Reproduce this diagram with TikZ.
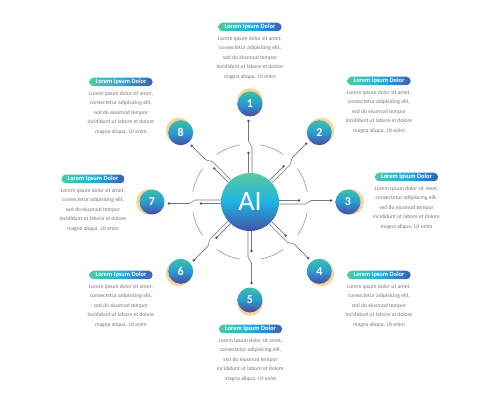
\documentclass[tikz,border=0pt]{standalone}
\usepackage{fontspec}
\setmainfont{Carlito}
\usetikzlibrary{calc}
\definecolor{wirec}{HTML}{6C7A89}
\definecolor{ringc}{HTML}{8F9CA8}
\definecolor{dotcol}{HTML}{46525F}
\definecolor{numtop}{HTML}{38C2A6}
\definecolor{nummid}{HTML}{2B9AD4}
\definecolor{numbot}{HTML}{4B4A9E}
\definecolor{aitop}{HTML}{5CC9A0}
\definecolor{aimid}{HTML}{1FB3E3}
\definecolor{aibot}{HTML}{4352A6}
\definecolor{pillL}{HTML}{4CCAA6}
\definecolor{pillM}{HTML}{27AEE0}
\definecolor{pillR}{HTML}{3D5FB6}
\definecolor{bodyc}{HTML}{76797E}
\definecolor{cresc}{HTML}{F8D39B}
\begin{document}
\begin{tikzpicture}[x=1pt,y=1pt,
  wire/.style={draw=wirec, line width=0.55pt},
  ringarc/.style={draw=ringc, line width=0.6pt},
  wiredot/.style={fill=dotcol},
  numnode/.style={circle, minimum size=25pt, inner sep=0pt, top color=numtop, bottom color=numbot, middle color=nummid, text=white, font=\fontsize{12}{12}\selectfont\bfseries},
  aicircle/.style={circle, minimum size=58pt, inner sep=0pt, top color=aitop, bottom color=aibot, middle color=aimid, text=white, font=\fontsize{28}{28}\selectfont},
  pill/.style={rounded corners=4pt, minimum width=63pt, minimum height=8.5pt, inner sep=0pt, left color=pillL, right color=pillR, middle color=pillM, text=white, font=\fontsize{6.4}{6.4}\selectfont\bfseries},
  body/.style={align=center, inner sep=0pt, text=bodyc, font=\fontsize{5.6}{9.45}\selectfont, anchor=north},
]
\useasboundingbox (0,0) rectangle (500,404);
\fill[white] (0,0) rectangle (500,404);

% central AI node
\node[aicircle] (ai) at (250,202) {AI};

% dashed ring
\foreach \k in {0,...,7}{
  \draw[ringarc] ($(ai.center)+({22.5+45*\k-12.5}:58)$) arc[start angle={22.5+45*\k-12.5}, delta angle=25, radius=58];
}

% spokes, crescents and number nodes
\foreach \a/\i in {90/1,45/2,0/3,-45/4,-90/5,-135/6,180/7,135/8}{
  \coordinate (d\i) at ($(ai.center)+(\a:81)+({\a+90}:1.5)$);
  \coordinate (s\i) at ($(ai.center)+(\a:49)+({\a+90}:1.5)$);
  \draw[wire] ($(ai.center)+(\a:29)+({\a-90}:2)$) -- ($(ai.center)+(\a:55)+({\a-90}:2)$) -- ($(ai.center)+(\a:61)+({\a+90}:1.5)$) -- (d\i);
  \draw[wire] ($(ai.center)+(\a:29)+({\a+90}:1.5)$) -- (s\i);
  \fill[wiredot] (d\i) circle[radius=1.3];
  \fill[wiredot] (s\i) circle[radius=1.3];
  \coordinate (p\i) at ($(ai.center)+(\a:98)$);
  \fill[cresc] ($(p\i)+(\a:3)$) circle[radius=12.8];
  \node[numnode] (n\i) at (p\i) {\i};
}

% text blocks
\foreach \i/\x/\y in {1/250/377, 2/379/323, 3/406.5/227, 4/379/129, 5/250.5/75, 6/121/129, 7/93/225, 8/121/322}{
  \node[pill] (t\i) at (\x,\y) {Lorem Ipsum Dolor};
  \node[body] (b\i) at ([yshift=-5pt]t\i.south) {Lorem ipsum dolor sit amet,\\consectetur adipisicing elit,\\sed do eiusmod tempor\\incididunt ut labore et dolore\\magna aliqua. Ut enim};
}
\end{tikzpicture}
\end{document}
